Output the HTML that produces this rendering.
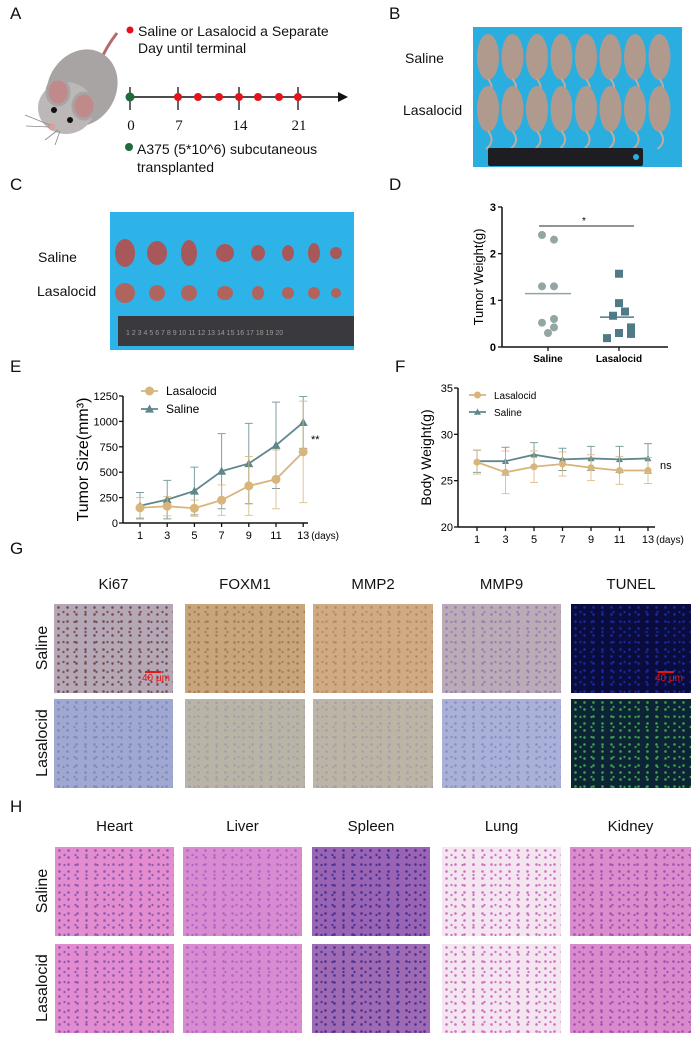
<!DOCTYPE html>
<html><head><meta charset="utf-8">
<style>
body{margin:0;background:#fff;}
#root{position:relative;width:699px;height:1044px;overflow:hidden;font-family:"Liberation Sans",sans-serif;color:#111;}
.lbl{position:absolute;font-size:17px;}
.t{position:absolute;font-size:14px;white-space:nowrap;}
.tile{position:absolute;}
.hdr{position:absolute;font-size:15px;text-align:center;width:120px;}
.rot{position:absolute;font-size:16px;transform:rotate(-90deg);transform-origin:center;white-space:nowrap;text-align:center;width:90px;}
</style></head>
<body>
<div id="root">
<div class="lbl" style="left:10px;top:4px">A</div>
<div class="lbl" style="left:389px;top:4px">B</div>
<div class="lbl" style="left:10px;top:175px">C</div>
<div class="lbl" style="left:389px;top:175px">D</div>
<div class="lbl" style="left:10px;top:357px">E</div>
<div class="lbl" style="left:395px;top:357px">F</div>
<div class="lbl" style="left:10px;top:539px">G</div>
<div class="lbl" style="left:10px;top:797px">H</div>

<!-- Panel A -->
<svg style="position:absolute;left:0;top:0" width="360" height="180">
 <g>
  <path d="M100,62 C104,52 110,42 117,33" stroke="#b86a6a" stroke-width="3" fill="none"/>
  <ellipse cx="82" cy="88" rx="34" ry="40" fill="#a9a4a4" transform="rotate(30 82 88)"/>
  <ellipse cx="66" cy="108" rx="28" ry="26" fill="#bdb8b8"/>
  <ellipse cx="58" cy="92" rx="11" ry="13" fill="#c08a8a" stroke="#a9a4a4" stroke-width="3"/>
  <ellipse cx="84" cy="106" rx="11" ry="13" fill="#c08a8a" stroke="#a9a4a4" stroke-width="3"/>
  <circle cx="54" cy="110" r="3" fill="#111"/><circle cx="70" cy="120" r="3" fill="#111"/>
  <circle cx="52" cy="127" r="3.5" fill="#d9a0a0"/>
  <path d="M50,125 L25,115 M50,127 L26,126 M58,130 L45,140 M60,131 L55,145" stroke="#888" stroke-width="0.8"/>
 </g>
 <circle cx="130" cy="30" r="3.5" fill="#e3121b"/>
 <text x="138" y="36" font-size="14" font-family="Liberation Sans" fill="#111">Saline or Lasalocid a Separate</text>
 <text x="138" y="53" font-size="14" font-family="Liberation Sans" fill="#111">Day until terminal</text>
 <line x1="128" y1="97" x2="340" y2="97" stroke="#111" stroke-width="1.5"/>
 <path d="M338,92 L348,97 L338,102 Z" fill="#111"/>
 <g stroke="#111" stroke-width="1.3">
  <line x1="130" y1="87" x2="130" y2="110"/><line x1="178" y1="87" x2="178" y2="110"/>
  <line x1="239" y1="87" x2="239" y2="110"/><line x1="298" y1="87" x2="298" y2="110"/>
 </g>
 <circle cx="130" cy="97" r="4.5" fill="#1e6b3c"/>
 <g fill="#e3121b">
  <circle cx="178" cy="97" r="4"/><circle cx="198" cy="97" r="4"/><circle cx="219" cy="97" r="4"/>
  <circle cx="239" cy="97" r="4"/><circle cx="258" cy="97" r="4"/><circle cx="279" cy="97" r="4"/><circle cx="298" cy="97" r="4"/>
 </g>
 <g font-family="Liberation Serif" font-size="15" fill="#111" text-anchor="middle">
  <text x="131" y="130">0</text><text x="179" y="130">7</text><text x="240" y="130">14</text><text x="299" y="130">21</text>
 </g>
 <circle cx="129" cy="147" r="4" fill="#1e6b3c"/>
 <text x="137" y="154" font-size="14" font-family="Liberation Sans" fill="#111">A375 (5*10^6) subcutaneous</text>
 <text x="137" y="172" font-size="14" font-family="Liberation Sans" fill="#111">transplanted</text>
</svg>

<!-- Panel B -->
<div class="t" style="left:405px;top:50px">Saline</div>
<div class="t" style="left:403px;top:102px">Lasalocid</div>
<svg style="position:absolute;left:473px;top:27px" width="209" height="140">
 <rect width="209" height="140" fill="#2aaee0"/>
 <g id="mice"></g>
 <rect x="15" y="121" width="155" height="18" rx="2" fill="#1e1e22"/>
 <circle cx="163" cy="130" r="3" fill="#2aaee0"/>
</svg>

<!-- Panel C -->
<div class="t" style="left:38px;top:249px">Saline</div>
<div class="t" style="left:37px;top:283px">Lasalocid</div>
<svg style="position:absolute;left:110px;top:212px" width="244" height="138">
 <rect width="244" height="138" fill="#2eb3e8"/>
 <g id="tumors"></g>
 <rect x="8" y="104" width="236" height="30" fill="#3a3a3e"/>
 <text x="16" y="123" font-size="7" fill="#9a9a9a" font-family="Liberation Sans">1  2  3  4  5  6  7  8  9 10 11 12 13 14 15 16 17 18 19 20</text>
</svg>

<svg style="position:absolute;left:0;top:0" width="699" height="548" id="chartSvg"></svg>

<script>
// ---------- data ----------
const dCategories = ["Saline", "Lasalocid"];
const dSalineValues = [2.4, 2.3, 1.3, 1.3, 0.52, 0.6, 0.42, 0.3];
const dLasalocidValues = [1.57, 0.94, 0.76, 0.67, 0.42, 0.30, 0.28, 0.19];
const dYTicks = [0, 1, 2, 3];

const days = [1, 3, 5, 7, 9, 11, 13];
const eLasalocidMean = [150, 165, 145, 225, 365, 430, 700];
const eLasalocidSD = [100, 95, 80, 150, 290, 290, 500];
const eSalineMean = [170, 230, 315, 510, 585, 765, 990];
const eSalineSD = [130, 190, 235, 370, 395, 425, 255];
const eYTicks = [0, 250, 500, 750, 1000, 1250];

const fLasalocidMean = [27.0, 25.9, 26.5, 26.8, 26.4, 26.1, 26.1];
const fLasalocidSD = [1.3, 2.3, 1.7, 1.3, 1.4, 1.5, 1.4];
const fSalineMean = [27.1, 27.1, 27.8, 27.3, 27.4, 27.3, 27.4];
const fSalineSD = [1.2, 1.5, 1.3, 1.2, 1.3, 1.4, 1.6];
const fYTicks = [20, 25, 30, 35];

const NS = "http://www.w3.org/2000/svg";
const svg = document.getElementById("chartSvg");
function mk(tag, attrs, parent, text) {
  const e = document.createElementNS(NS, tag);
  for (const k in attrs) e.setAttribute(k, attrs[k]);
  if (text !== undefined) e.textContent = text;
  (parent || svg).appendChild(e);
  return e;
}
const TAN = "#d8b57a", TEAL = "#5e878c";

// ---------- Panel D ----------
(function () {
  const x0 = 502, yBottom = 347, yTop = 207, xEnd = 668;
  const y = v => yBottom - (v / 3) * (yBottom - yTop);
  const catX = [548, 619];
  let a = mk("line", {x1: x0, y1: yTop, x2: x0, y2: yBottom, stroke: "#111", "stroke-width": 1.5});
  
  
  a = mk("line", {x1: x0, y1: yBottom, x2: xEnd, y2: yBottom, stroke: "#111", "stroke-width": 1.5});
  
  
  dYTicks.forEach(t => {
    mk("line", {x1: x0 - 4, y1: y(t), x2: x0, y2: y(t), stroke: "#111", "stroke-width": 1.3});
    const tx = mk("text", {x: x0 - 6, y: y(t) + 4, "font-size": 11, "font-weight": "bold", "text-anchor": "end", "font-family": "Liberation Sans"}, svg, t);
    
    
  });
  dCategories.forEach((c, i) => {
    mk("line", {x1: catX[i], y1: yBottom, x2: catX[i], y2: yBottom + 4, stroke: "#111", "stroke-width": 1.3});
    const tx = mk("text", {x: catX[i], y: yBottom + 15, "font-size": 10, "font-weight": "bold", "text-anchor": "middle", "font-family": "Liberation Sans"}, svg, c);
    
    
  });
  const yt = mk("text", {x: 0, y: 0, "font-size": 13, "text-anchor": "middle", "font-family": "Liberation Sans", transform: "translate(483,277) rotate(-90)"}, svg, "Tumor Weight(g)");
  
  
  const offs = [-6, 6, -6, 6, -6, 6, 6, 0];
  dSalineValues.forEach((v, i) => {
    const p = mk("circle", {cx: catX[0] + offs[i], cy: y(v), r: 4, fill: "#93a6a6"});
    
    
  });
  const offs2 = [0, 0, 6, -6, 12, 0, 12, -12];
  dLasalocidValues.forEach((v, i) => {
    const p = mk("rect", {x: catX[1] + offs2[i] - 4, y: y(v) - 4, width: 8, height: 8, fill: "#4e7b86"});
    
    
  });
  const mean = arr => arr.reduce((s, v) => s + v, 0) / arr.length;
  let m = mk("line", {x1: catX[0] - 23, x2: catX[0] + 23, y1: y(mean(dSalineValues)), y2: y(mean(dSalineValues)), stroke: "#8fa6a8", "stroke-width": 1.5});
  
  
  m = mk("line", {x1: catX[1] - 19, x2: catX[1] + 15, y1: y(mean(dLasalocidValues)), y2: y(mean(dLasalocidValues)), stroke: "#4e7b86", "stroke-width": 1.5});
  
  
  const s = mk("line", {x1: 539, x2: 634, y1: 226, y2: 226, stroke: "#555", "stroke-width": 1.2});
  
  
  mk("text", {x: 584, y: 224, "font-size": 10, "text-anchor": "middle"}, svg, "*");
})();

// ---------- line chart helper ----------
function lineChart(cfg) {
  const {x0, yBottom, yTop, xEnd, yMin, yMax, xFirst, xStep, ticks, prefix} = cfg;
  const y = v => yBottom - (v - yMin) / (yMax - yMin) * (yBottom - yTop);
  const x = i => xFirst + i * xStep;
  let a = mk("line", {x1: x0, y1: yTop, x2: x0, y2: yBottom, stroke: "#111", "stroke-width": 1.5});
  
  
  a = mk("line", {x1: x0, y1: yBottom, x2: xEnd, y2: yBottom, stroke: "#111", "stroke-width": 1.5});
  
  
  ticks.forEach(t => {
    mk("line", {x1: x0 - 4, y1: y(t), x2: x0, y2: y(t), stroke: "#111", "stroke-width": 1.3});
    const tx = mk("text", {x: x0 - 5, y: y(t) + 4, "font-size": 11, "text-anchor": "end", "font-family": "Liberation Sans"}, svg, t);
    
    
  });
  days.forEach((d, i) => {
    mk("line", {x1: x(i), y1: yBottom, x2: x(i), y2: yBottom + 4, stroke: "#111", "stroke-width": 1.3});
    const tx = mk("text", {x: x(i), y: yBottom + 16, "font-size": 11, "text-anchor": "middle", "font-family": "Liberation Sans"}, svg, d);
    
    
  });
  mk("text", {x: x(6) + 8, y: yBottom + 16, "font-size": 10, "font-family": "Liberation Sans"}, svg, "(days)");
  const yt = mk("text", {x: 0, y: 0, "font-size": cfg.titleSize, "text-anchor": "middle", "font-family": "Liberation Sans", transform: `translate(${cfg.titleX},${(yTop + yBottom) / 2}) rotate(-90)`}, svg, cfg.title);
  
  
  function series(mean, sd, color, shape, name) {
    mean.forEach((v, i) => {
      const hi = Math.min(v + sd[i], yMax), lo = Math.max(v - sd[i], yMin);
      const eb = mk("path", {d: `M${x(i)},${y(hi)}V${y(lo)}M${x(i) - 4},${y(hi)}h8M${x(i) - 4},${y(lo)}h8`, stroke: color, "stroke-width": 1, fill: "none", opacity: 0.8});
      
      
    });
    const ln = mk("polyline", {points: mean.map((v, i) => x(i) + "," + y(v)).join(" "), fill: "none", stroke: color, "stroke-width": 1.8});
    
    
    mean.forEach((v, i) => {
      let p;
      if (shape === "circle") p = mk("circle", {cx: x(i), cy: y(v), r: cfg.mr, fill: color});
      else p = mk("path", {d: `M${x(i)},${y(v) - cfg.mr}L${x(i) + cfg.mr},${y(v) + cfg.mr * 0.8}L${x(i) - cfg.mr},${y(v) + cfg.mr * 0.8}Z`, fill: color});
      
      
    });
  }
  series(cfg.sal, cfg.salSD, TEAL, "tri", "saline");
  series(cfg.las, cfg.lasSD, TAN, "circle", "lasalocid");
  const L = cfg.legend;
  [["Lasalocid", TAN, "circle", 0], ["Saline", TEAL, "tri", 1]].forEach(([n, c, sh, k]) => {
    const ly = L.y + k * L.dy;
    mk("line", {x1: L.x, x2: L.x + L.w, y1: ly, y2: ly, stroke: c, "stroke-width": 1.8});
    if (sh === "circle") mk("circle", {cx: L.x + L.w / 2, cy: ly, r: cfg.mr, fill: c});
    else mk("path", {d: `M${L.x + L.w / 2},${ly - cfg.mr}l${cfg.mr},${cfg.mr * 1.8}h${-cfg.mr * 2}Z`, fill: c});
    const tx = mk("text", {x: L.x + L.w + 8, y: ly + 4, "font-size": L.fs, "font-family": "Liberation Sans"}, svg, n);
    
    
  });
  const st = mk("text", {x: cfg.sig[0], y: cfg.sig[1], "font-size": 11, "font-family": "Liberation Sans"}, svg, cfg.sig[2]);
  
  
}
lineChart({prefix: "e", x0: 123, yBottom: 523, yTop: 396, xEnd: 308, yMin: 0, yMax: 1250, xFirst: 140, xStep: 27.2,
  ticks: eYTicks, las: eLasalocidMean, lasSD: eLasalocidSD, sal: eSalineMean, salSD: eSalineSD,
  title: "Tumor Size(mm³)", titleSize: 16, titleX: 88, mr: 4.5,
  legend: {x: 141, y: 391, dy: 18, w: 17, fs: 12}, sig: [311, 443, "**"]});
lineChart({prefix: "f", x0: 458, yBottom: 527, yTop: 388, xEnd: 655, yMin: 20, yMax: 35, xFirst: 477, xStep: 28.5,
  ticks: fYTicks, las: fLasalocidMean, lasSD: fLasalocidSD, sal: fSalineMean, salSD: fSalineSD,
  title: "Body Weight(g)", titleSize: 14, titleX: 431, mr: 3.5,
  legend: {x: 469, y: 395, dy: 17, w: 17, fs: 10}, sig: [660, 469, "ns"]});

// ---------- photos ----------
const mice = document.getElementById("mice");
for (let r = 0; r < 2; r++) for (let i = 0; i < 8; i++) {
  const cx = 15 + i * 24.5, cy = 30 + r * 52;
  const e = mk("ellipse", {cx: cx, cy: cy, rx: 11, ry: 23, fill: "#b09a8e"}, mice);
  
  
  mk("path", {d: `M${cx},${cy + 22} q8,10 -2,18`, stroke: "#c4aa9a", "stroke-width": 2, fill: "none"}, mice);
}
const tumorX = [15, 47, 79, 115, 148, 178, 204, 226];
const tumorR1 = [[10, 14], [10, 12], [8, 13], [9, 9], [7, 8], [6, 8], [6, 10], [6, 6]];
const tumorR2 = [[10, 10], [8, 8], [8, 8], [8, 7], [6, 7], [6, 6], [6, 6], [5, 5]];
const tg = document.getElementById("tumors");
tumorX.forEach((x, i) => {
  let e = mk("ellipse", {cx: x, cy: 41, rx: tumorR1[i][0], ry: tumorR1[i][1], fill: "#a8585a"}, tg);
  
  
  e = mk("ellipse", {cx: x, cy: 81, rx: tumorR2[i][0], ry: tumorR2[i][1], fill: "#b0645e"}, tg);
  
  
});

// ---------- histology grids ----------
function grid(id, cols, headers, rowsY, hdrY, tileH, colors, dots) {
  const root = document.getElementById("root");
  headers.forEach((h, i) => {
    const d = document.createElement("div");
    d.className = "hdr";
    d.style.left = (cols[i][0] + (cols[i][1] - cols[i][0]) / 2 - 60) + "px";
    d.style.top = hdrY + "px";
    d.textContent = h;
    
    
    root.appendChild(d);
  });
  ["Saline", "Lasalocid"].forEach((r, j) => {
    const d = document.createElement("div");
    d.className = "rot";
    d.style.left = (43 - 45) + "px";
    d.style.top = (rowsY[j] + tileH / 2 - 10) + "px";
    d.textContent = r;
    
    
    root.appendChild(d);
    cols.forEach((c, i) => {
      const t = document.createElement("div");
      t.className = "tile";
      t.style.left = c[0] + "px"; t.style.top = rowsY[j] + "px";
      t.style.width = (c[1] - c[0]) + "px"; t.style.height = tileH + "px";
      t.style.background = `radial-gradient(circle, ${dots[j][i]} 1px, transparent 1.6px) 0 0/9px 7px, radial-gradient(circle, ${dots[j][i]} 0.8px, transparent 1.4px) 4px 3px/11px 10px, ${colors[j][i]}`;
      
      
      root.appendChild(t);
    });
  });
}
grid("g", [[54, 173], [185, 305], [313, 433], [442, 561], [571, 691]], ["Ki67", "FOXM1", "MMP2", "MMP9", "TUNEL"],
  [604, 699], 576, 89,
  [["#b4a8b6", "#c9a57c", "#cfaa82", "#bcaab6", "#0a0c3e"], ["#9ea8d0", "#bab4a6", "#bcb4a5", "#aab0d8", "#0c2436"]],
  [["#7a4a50", "#a87a58", "#b88a62", "#8a84b0", "#1a28a0"], ["#8088bc", "#a0a0aa", "#a4a0a8", "#8490c4", "#3ca048"]]);
grid("h", [[55, 174], [183, 302], [312, 430], [442, 561], [570, 691]], ["Heart", "Liver", "Spleen", "Lung", "Kidney"],
  [847, 944], 818, 89,
  [["#e48cd0", "#d98bd2", "#9a64b4", "#f4e6f0", "#da8ccc"], ["#e38bd0", "#d98bd2", "#9e6ab4", "#f4e6f0", "#d98acc"]],
  [["#8a5ab0", "#a868c4", "#4a3090", "#d070c0", "#a050b0"], ["#8a5ab0", "#a868c4", "#4a3090", "#d070c0", "#a050b0"]]);
const root = document.getElementById("root");
[[142, 671], [655, 671]].forEach(([x, y]) => {
  const d = document.createElement("div");
  d.style.cssText = `position:absolute;left:${x}px;top:${y}px;color:#e01818;font-size:10px;white-space:nowrap;line-height:11px`;
  d.innerHTML = '<div style="width:16px;height:2px;background:#e01818;margin-left:3px"></div>40 μm';
  
  
  root.appendChild(d);
});
</script>
</div>
</body></html>
